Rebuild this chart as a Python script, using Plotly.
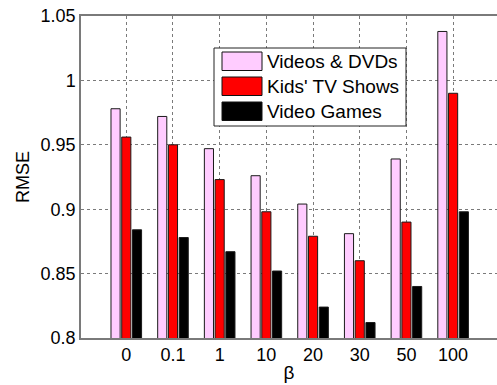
import plotly.graph_objects as go

# Regularisation weights (x categories)
betas = ["0", "0.1", "1", "10", "20", "30", "50", "100"]

# RMSE per dataset
videos_dvds = [0.978, 0.972, 0.947, 0.926, 0.904, 0.881, 0.939, 1.038]
kids_tv = [0.956, 0.950, 0.923, 0.898, 0.879, 0.860, 0.890, 0.990]
video_games = [0.884, 0.878, 0.867, 0.852, 0.824, 0.812, 0.840, 0.898]

series_names = ["Videos & DVDs", "Kids' TV Shows", "Video Games"]
series_values = [videos_dvds, kids_tv, video_games]
series_colors = ["#ffccff", "#ff0000", "#000000"]

y_ticks = [0.8, 0.85, 0.9, 0.95, 1.0, 1.05]
y_ticktext = ["0.8", "0.85", "0.9", "0.95", "1", "1.05"]

W, H = 497, 385
ML, MT, MB, MR = 81, 16, 47, 0
PW, PH = W - ML - MR, H - MT - MB

FONT = "Liberation Sans, Arial, Helvetica, sans-serif"

fig = go.Figure()
for name, vals, col in zip(series_names, series_values, series_colors):
    fig.add_trace(go.Bar(
        x=betas, y=vals, name=name,
        marker=dict(color=col, line=dict(color="#1a1a1a", width=1)),
        showlegend=False,
    ))


def px(x):
    return (x - ML) / PW


def py(y):
    return 1 - (y - MT) / PH


# Legend box with wide colour swatches
shapes = [dict(type="rect", xref="paper", yref="paper",
               x0=px(214), x1=px(406), y0=py(126), y1=py(48),
               line=dict(color="#222", width=1), fillcolor="white", layer="above")]
annotations = []
for i, (name, col) in enumerate(zip(series_names, series_colors)):
    top = 52 + i * 25
    shapes.append(dict(type="rect", xref="paper", yref="paper",
                       x0=px(222), x1=px(262), y0=py(top + 18.5), y1=py(top),
                       line=dict(color="#111", width=1), fillcolor=col, layer="above"))
    annotations.append(dict(xref="paper", yref="paper", x=px(265), y=py(top + 9.5),
                            text=name, showarrow=False, xanchor="left", yanchor="middle",
                            font=dict(family=FONT, size=19, color="black")))

fig.update_layout(
    width=W, height=H,
    margin=dict(l=ML, r=MR, t=MT, b=MB, pad=0),
    paper_bgcolor="white", plot_bgcolor="white",
    barmode="group", bargap=0.31, bargroupgap=0.15,
    font=dict(family=FONT, size=18, color="black"),
    shapes=shapes, annotations=annotations,
    showlegend=False,
)
fig.update_xaxes(
    type="category", range=[-0.97, 7.94],
    showline=True, linecolor="#7a7a7a", linewidth=1.5, mirror=True,
    showgrid=True, gridcolor="#7a7a7a", griddash="dot", gridwidth=1,
    ticks="", tickfont=dict(size=18),
    title=dict(text="β", font=dict(size=19), standoff=1),
)
fig.update_yaxes(
    range=[0.8, 1.05], tickvals=y_ticks, ticktext=y_ticktext,
    showline=True, linecolor="#7a7a7a", linewidth=1.5,
    showgrid=True, gridcolor="#7a7a7a", griddash="dot", gridwidth=1,
    zeroline=False, ticks="", tickfont=dict(size=18),
    title=dict(text="RMSE", font=dict(size=18), standoff=6),
)

fig.write_html("out.html")
